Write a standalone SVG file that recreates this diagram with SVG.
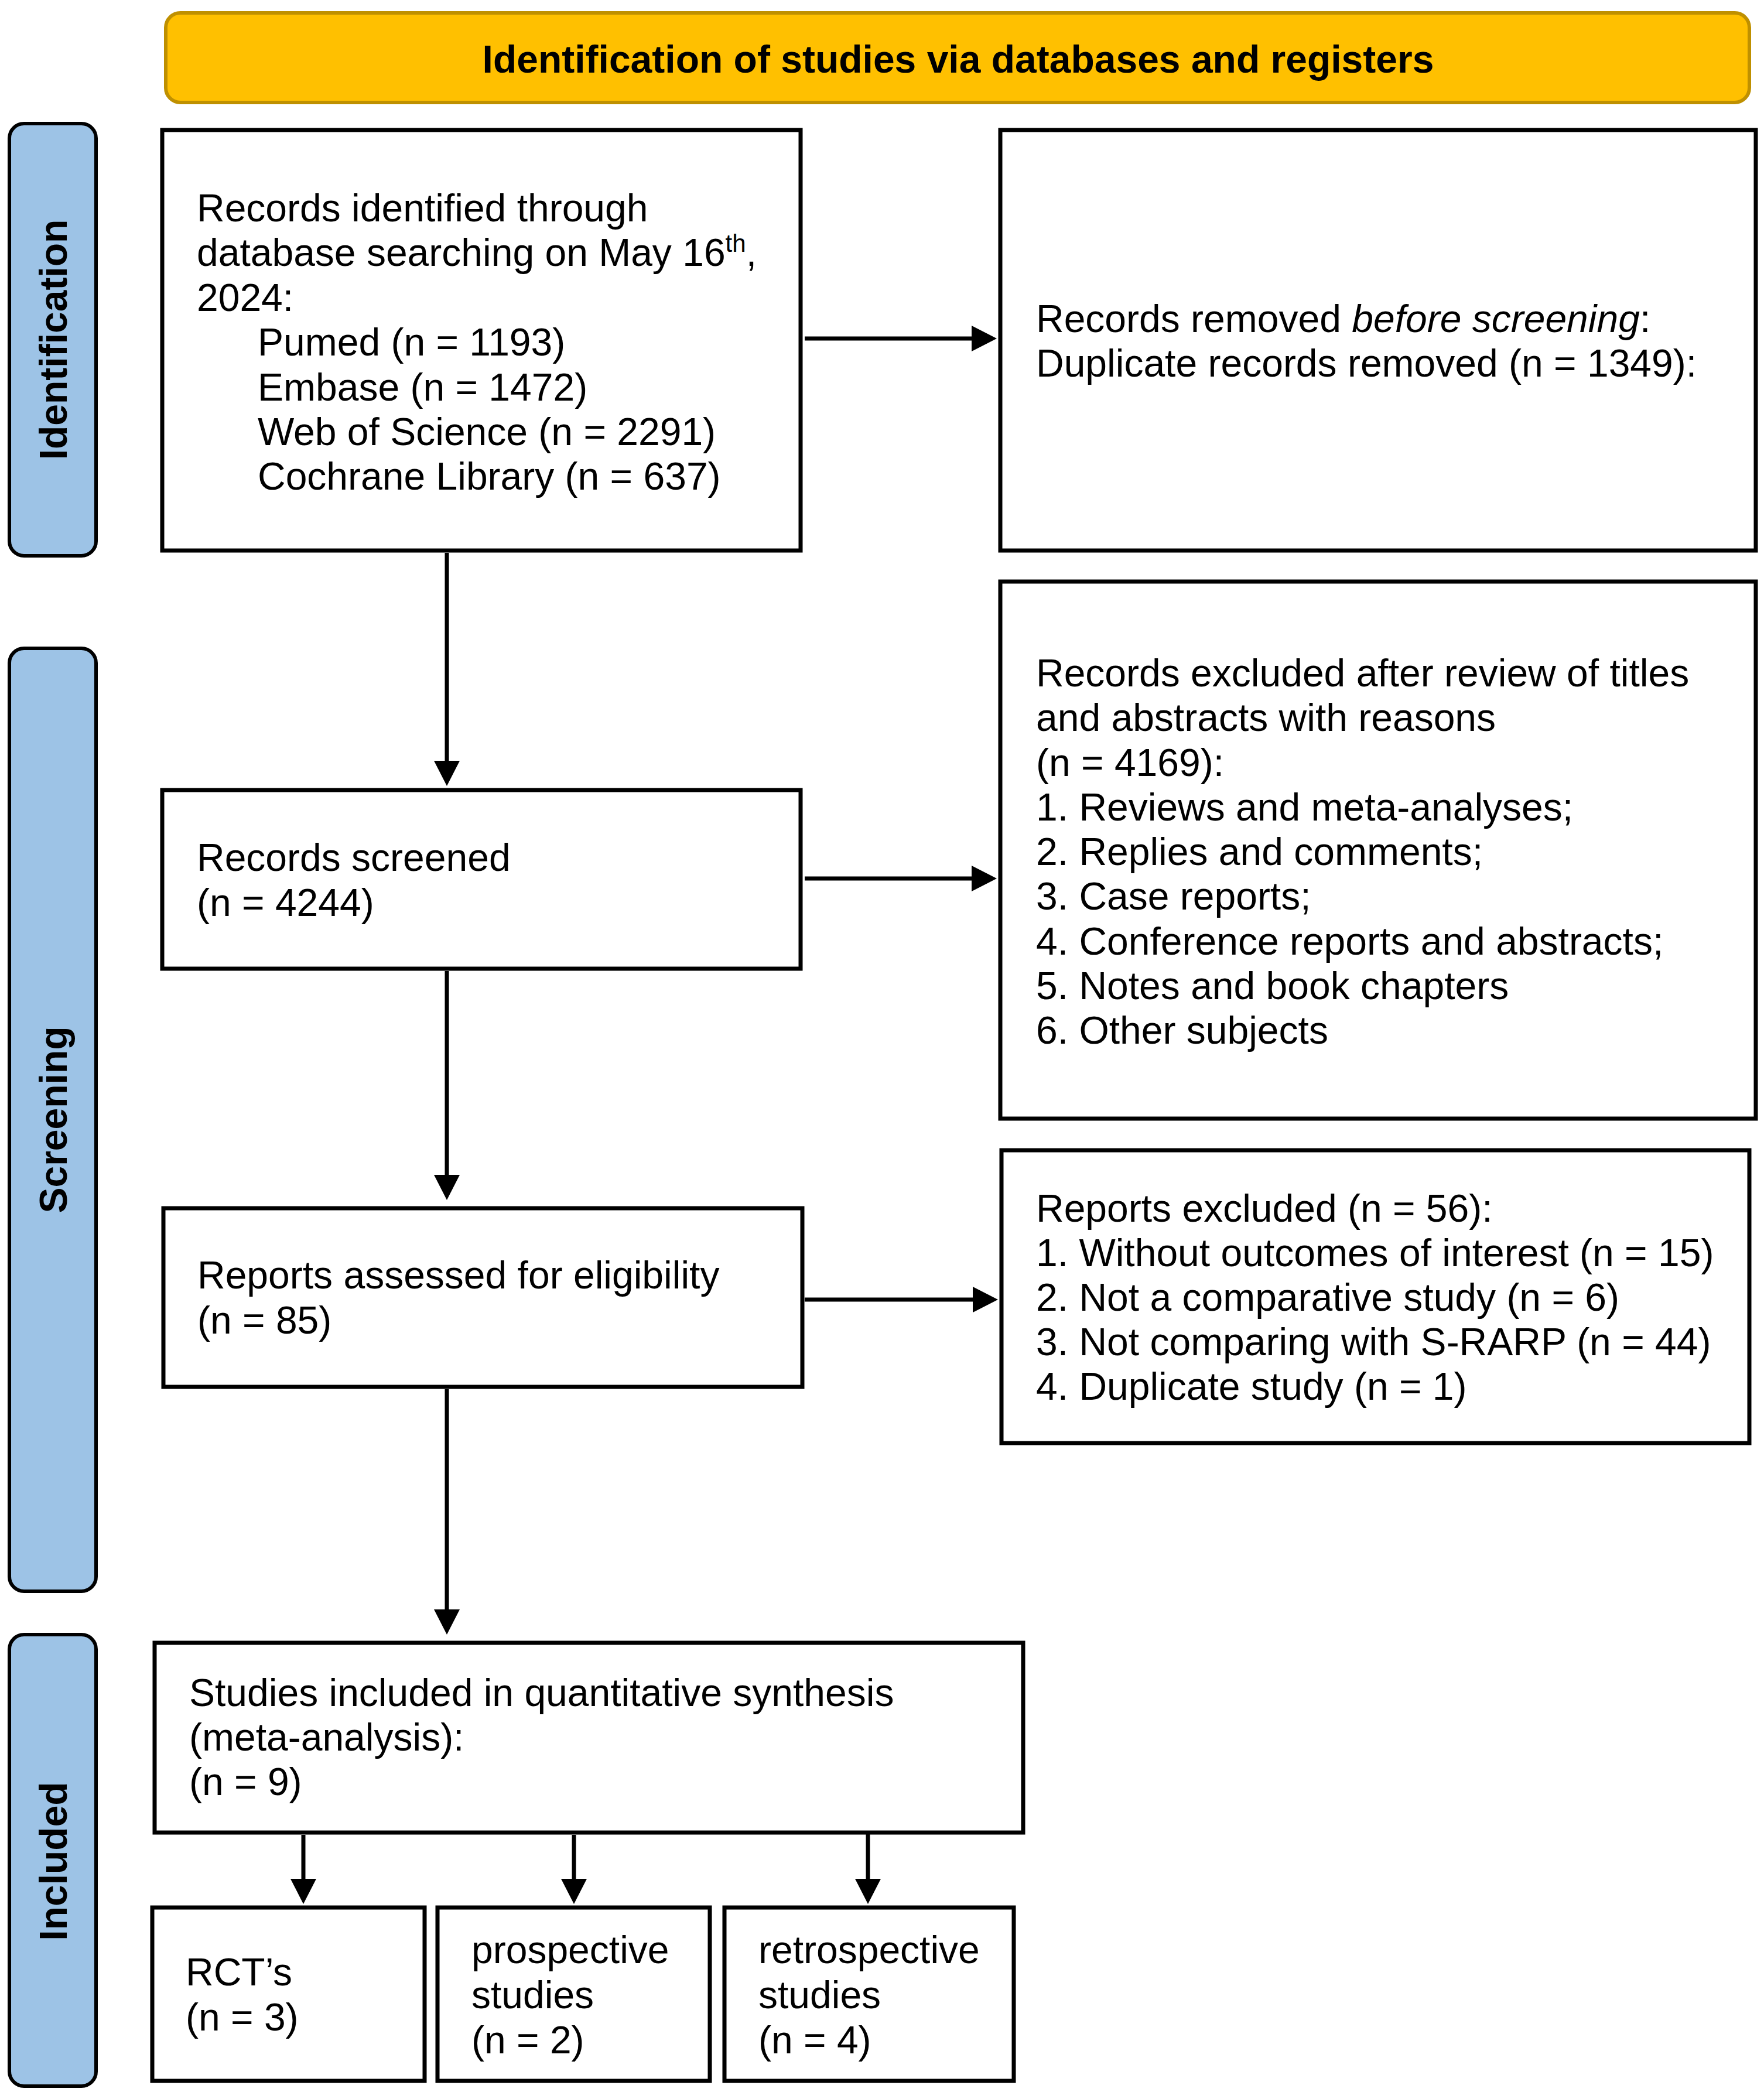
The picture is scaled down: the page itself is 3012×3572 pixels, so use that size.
<svg xmlns="http://www.w3.org/2000/svg" width="3012" height="3572" viewBox="0 0 3012 3572">
<style>
.box{fill:#ffffff;stroke:#000000;stroke-width:7}
.side{fill:#9DC3E6;stroke:#000000;stroke-width:6}
.banner{fill:#FFC000;stroke:#BF9000;stroke-width:6}
.t{font-family:"Liberation Sans",Arial,Helvetica,sans-serif;font-size:66px;fill:#000000}
.b{font-family:"Liberation Sans",Arial,Helvetica,sans-serif;font-size:66px;font-weight:bold;fill:#000000}
.c{stroke:#000000;stroke-width:7;fill:none;marker-end:url(#ah)}
</style>
<defs>
<marker id="ah" markerUnits="userSpaceOnUse" markerWidth="44" markerHeight="44" refX="2" refY="22" orient="auto" viewBox="0 0 44 44">
<path d="M0,0 L43,22 L0,44 Z" fill="#000000"/>
</marker>
</defs>
<rect width="3012" height="3572" fill="#ffffff"/>

<g id="banner">
<rect class="banner" x="283" y="22" width="2704" height="153" rx="25" ry="25"/>
<text class="b" x="1636" y="124" text-anchor="middle">Identification of studies via databases and registers</text>
</g>

<g id="side-identification">
<rect class="side" x="16" y="211" width="148" height="738" rx="25" ry="25"/>
<text class="b" transform="translate(114,580) rotate(-90)" text-anchor="middle">Identification</text>
</g>
<g id="side-screening">
<rect class="side" x="16" y="1107" width="148" height="1610" rx="25" ry="25"/>
<text class="b" transform="translate(114,1912) rotate(-90)" text-anchor="middle">Screening</text>
</g>
<g id="side-included">
<rect class="side" x="16" y="2791" width="148" height="771" rx="25" ry="25"/>
<text class="b" transform="translate(114,3178) rotate(-90)" text-anchor="middle">Included</text>
</g>

<g id="records-identified">
<rect class="box" x="277" y="222" width="1090" height="718"/>
<text class="t" x="336" y="378">Records identified through</text>
<text class="t" x="336" y="454">database searching on May 16<tspan font-size="42" dy="-24">th</tspan><tspan dy="24">,</tspan></text>
<text class="t" x="336" y="531">2024:</text>
<text class="t" x="440" y="607">Pumed (n = 1193)</text>
<text class="t" x="440" y="684">Embase (n = 1472)</text>
<text class="t" x="440" y="760">Web of Science (n = 2291)</text>
<text class="t" x="440" y="836">Cochrane Library (n = 637)</text>
</g>

<g id="records-removed">
<rect class="box" x="1708" y="222" width="1290" height="718"/>
<text class="t" x="1769" y="567">Records removed <tspan font-style="italic">before screening</tspan>:</text>
<text class="t" x="1769" y="643">Duplicate records removed (n = 1349):</text>
</g>

<g id="records-screened">
<rect class="box" x="277" y="1349" width="1090" height="305"/>
<text class="t" x="336" y="1487">Records screened</text>
<text class="t" x="336" y="1564">(n = 4244)</text>
</g>

<g id="records-excluded">
<rect class="box" x="1708" y="993" width="1290" height="917"/>
<text class="t" x="1769" y="1172">Records excluded after review of titles</text>
<text class="t" x="1769" y="1248">and abstracts with reasons</text>
<text class="t" x="1769" y="1325">(n = 4169):</text>
<text class="t" x="1769" y="1401">1. Reviews and meta-analyses;</text>
<text class="t" x="1769" y="1477">2. Replies and comments;</text>
<text class="t" x="1769" y="1553">3. Case reports;</text>
<text class="t" x="1769" y="1630">4. Conference reports and abstracts;</text>
<text class="t" x="1769" y="1706">5. Notes and book chapters</text>
<text class="t" x="1769" y="1782">6. Other subjects</text>
</g>

<g id="reports-assessed">
<rect class="box" x="279" y="2063" width="1091" height="305"/>
<text class="t" x="337" y="2200">Reports assessed for eligibility</text>
<text class="t" x="337" y="2277">(n = 85)</text>
</g>

<g id="reports-excluded">
<rect class="box" x="1710" y="1964" width="1277" height="500"/>
<text class="t" x="1769" y="2086">Reports excluded (n = 56):</text>
<text class="t" x="1769" y="2162">1. Without outcomes of interest (n = 15)</text>
<text class="t" x="1769" y="2238">2. Not a comparative study (n = 6)</text>
<text class="t" x="1769" y="2314">3. Not comparing with S-RARP (n = 44)</text>
<text class="t" x="1769" y="2390">4. Duplicate study (n = 1)</text>
</g>

<g id="studies-included">
<rect class="box" x="264" y="2805" width="1483" height="324"/>
<text class="t" x="323" y="2913">Studies included in quantitative synthesis</text>
<text class="t" x="323" y="2989">(meta-analysis):</text>
<text class="t" x="323" y="3065">(n = 9)</text>
</g>

<g id="rcts">
<rect class="box" x="260" y="3257" width="465" height="296"/>
<text class="t" x="317" y="3390">RCT’s</text>
<text class="t" x="317" y="3467">(n = 3)</text>
</g>

<g id="prospective">
<rect class="box" x="747" y="3257" width="465" height="296"/>
<text class="t" x="805" y="3352">prospective</text>
<text class="t" x="805" y="3429">studies</text>
<text class="t" x="805" y="3506">(n = 2)</text>
</g>

<g id="retrospective">
<rect class="box" x="1237" y="3257" width="494" height="296"/>
<text class="t" x="1295" y="3352">retrospective</text>
<text class="t" x="1295" y="3429">studies</text>
<text class="t" x="1295" y="3506">(n = 4)</text>
</g>

<g id="connectors">
<line class="c" x1="1374" y1="578" x2="1661" y2="578"/>
<line class="c" x1="1374" y1="1500" x2="1661" y2="1500"/>
<line class="c" x1="1374" y1="2219" x2="1663" y2="2219"/>
<line class="c" x1="763" y1="944" x2="763" y2="1301"/>
<line class="c" x1="763" y1="1658" x2="763" y2="2008"/>
<line class="c" x1="763" y1="2372" x2="763" y2="2750"/>
<line class="c" x1="518" y1="3133" x2="518" y2="3210"/>
<line class="c" x1="980" y1="3133" x2="980" y2="3210"/>
<line class="c" x1="1482" y1="3126" x2="1482" y2="3210"/>
</g>
</svg>
